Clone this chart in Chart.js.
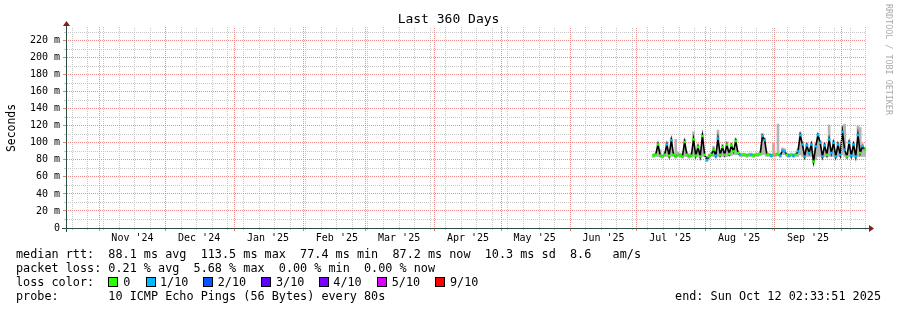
<!DOCTYPE html>
<html>
<head>
<meta charset="utf-8">
<script src="https://cdn.jsdelivr.net/npm/chart.js@4.4.1/dist/chart.umd.min.js"></script>
<style>
html,body{margin:0;padding:0;background:#fff;}
#wrap{position:relative;width:897px;height:310px;overflow:hidden;font-family:"DejaVu Sans Mono",monospace;color:#000;background:#fff;}
#c{position:absolute;left:0;top:0;}
.t{position:absolute;white-space:pre;font-size:11.8px;line-height:14px;}
.box{position:absolute;width:8px;height:8px;border:1px solid #000;}
#title{position:absolute;left:0;width:897px;top:11px;text-align:center;font-size:13px;line-height:16px;white-space:pre;}
#ylab{position:absolute;left:10.5px;top:127.5px;transform:translate(-50%,-50%) rotate(-90deg);font-size:11.4px;line-height:14px;white-space:pre;}
#wm{position:absolute;left:884px;top:4px;writing-mode:vertical-rl;font-size:8.4px;line-height:10px;color:#aaa;white-space:pre;}
</style>
</head>
<body>
<div id="wrap">
  <canvas id="c" width="897" height="310"></canvas>
  <div id="title"></div>
  <div id="ylab"></div>
  <div id="wm"></div>
  <div id="legend"></div>
</div>
<script>
// ---------------- DATA ----------------
const chartTitle = 'Last 360 Days';
const yAxisTitle = 'Seconds';
const watermark = 'RRDTOOL / TOBI OETIKER';
const graphStart = '2024-10-17T02:33:51Z';
const graphEnd = '2025-10-12T02:33:51Z';
const dataStart = '2025-07-08T12:00:00Z'; // one sample per day from here

const yMajorValues = [0,20,40,60,80,100,120,140,160,180,200,220];
const yMinorValues = [10,30,50,70,90,110,130,150,170,190,210,230];
const yTickLabels = ['0','20 m','40 m','60 m','80 m','100 m','120 m','140 m','160 m','180 m','200 m','220 m'];

const monthStarts = ['2024-11-01','2024-12-01','2025-01-01','2025-02-01','2025-03-01','2025-04-01','2025-05-01','2025-06-01','2025-07-01','2025-08-01','2025-09-01','2025-10-01'];
const monthLabels = ["Nov '24","Dec '24","Jan '25","Feb '25","Mar '25","Apr '25","May '25","Jun '25","Jul '25","Aug '25","Sep '25"];
const firstWeekLine = '2024-10-20T00:00:00Z';

// median RTT (ms), one value per day
const medianRtt = [
 85,86,98,85,84,86,98,85,103,86,
 84,86,85,84,101,86,84,85,104,85,
 95,84,108,86,80,84,86,92,85,105,
 86,95,86,98,87,97,90,102,88,86,
 86,86,85,86,86,85,86,86,87,108,
 103,86,86,85,86,86,87,85,91,90,
 86,85,86,85,86,90,109,98,84,97,
 88,98,78,96,109,100,84,97,86,104,
 88,100,84,98,86,113,92,84,100,85,
 98,84,109,88,96,92];
// smoke range (ms)
const smokeLow = [
 83,84,84,83,82,84,84,83,84,84,
 82,84,83,82,84,84,82,83,84,83,
 84,82,84,84,78,82,84,84,83,84,
 84,84,84,84,85,85,86,86,86,84,
 84,84,83,84,84,83,84,84,85,86,
 86,84,84,83,84,84,85,83,86,86,
 84,83,84,83,84,84,86,84,82,84,
 84,84,76,80,84,84,82,84,84,84,
 84,84,82,84,84,86,84,82,84,83,
 84,82,84,84,84,84];
const smokeHigh = [
 87,88,101,92,86,89,101,88,106,89,
 104,89,88,87,104,89,87,88,113,88,
 99,87,111,89,84,87,89,96,88,115,
 89,98,89,101,90,100,93,105,91,88,
 88,88,87,88,88,87,88,88,90,111,
 106,88,88,87,100,88,122,87,94,93,
 88,87,88,87,88,93,112,101,87,100,
 91,101,82,99,111,103,87,100,89,121,
 91,103,87,101,89,120,122,87,103,88,
 101,87,120,118,99,95];
// loss colour index per day (0 = no loss, 1 = 1/10)
const lossLevel = [
 0,0,0,0,0,0,1,0,1,0,
 0,0,0,0,0,0,0,0,0,0,
 0,0,0,0,1,0,0,0,1,1,
 0,0,0,0,0,0,0,0,0,1,
 0,0,0,0,1,0,0,0,0,1,
 1,0,0,1,0,0,0,1,1,1,
 0,1,0,1,0,1,1,1,1,1,
 1,1,0,1,1,1,1,1,0,1,
 1,1,1,1,1,1,1,0,1,1,
 1,1,1,0,1,0];

const lossLabels = ['0','1/10','2/10','3/10','4/10','5/10','9/10'];
const lossColors = ['#26ff00','#00b8ff','#0059ff','#5e00ff','#7e00ff','#dd00ff','#ff0000'];

const rttRow = 'median rtt:  88.1 ms avg  113.5 ms max  77.4 ms min  87.2 ms now  10.3 ms sd  8.6   am/s';
const lossRow = 'packet loss: 0.21 % avg  5.68 % max  0.00 % min  0.00 % now';
const lossTitle = 'loss color:';
const probeRow = 'probe:       10 ICMP Echo Pings (56 Bytes) every 80s';
const endText = 'end: Sun Oct 12 02:33:51 2025';

// ---------------- STYLE / LAYOUT ----------------
const AXIS = '#2c4d43';
const ARROW = '#7f1f1f';
const SMOKE = '#b4b4b4';
const MONO = '"DejaVu Sans Mono", monospace';

// dotted grid strokes via a 2x2 checker pattern
function dotPattern(color) {
  const off = document.createElement('canvas');
  off.width = 2; off.height = 2;
  const g = off.getContext('2d');
  g.fillStyle = color;
  g.fillRect(0, 0, 1, 1);
  g.fillRect(1, 1, 1, 1);
  return document.getElementById('c').getContext('2d').createPattern(off, 'repeat');
}
const GRID = dotPattern('#c6c6c6');
const MGRID = dotPattern('#f08c8c');
const GRIDTICK = '#c6c6c6';
const MGRIDTICK = '#e08080';

const DAY = 86400000;
const t0 = Date.parse(graphStart);
const toDay = s => (Date.parse(s) - t0) / DAY;
const spanDays = toDay(graphEnd);
const d0 = toDay(dataStart);

const medianPts = medianRtt.map((v, i) => ({x: d0 + i, y: v}));
const smokePts = smokeLow.map((v, i) => ({x: d0 + i, y: [v, smokeHigh[i]]}));
const pointColors = lossLevel.map(k => lossColors[k]);

const weekTicks = [];
for (let d = toDay(firstWeekLine); d <= spanDays + 1e-6; d += 7) weekTicks.push(d);
const monthTicks = monthStarts.map(s => toDay(s + 'T00:00:00Z'));
const labelTicks = monthLabels.map((l, i) => monthTicks[i] + 15);

const setTicks = vals => (s => { s.ticks = vals.map(v => ({value: v})); });
const noTickText = {display: false};

const arrowPlugin = {
  id: 'arrows',
  afterDraw(chart) {
    const {ctx, chartArea: a} = chart;
    const yb = Math.round(a.bottom) + 0.5, xl = Math.round(a.left) + 0.5;
    ctx.save();
    ctx.strokeStyle = AXIS; ctx.lineWidth = 1;
    ctx.beginPath();
    ctx.moveTo(a.left - 4, yb); ctx.lineTo(a.right + 4, yb);
    ctx.moveTo(xl, a.bottom + 4); ctx.lineTo(xl, a.top - 3);
    ctx.stroke();
    ctx.fillStyle = ARROW;
    ctx.beginPath();
    ctx.moveTo(a.right + 3, yb - 3.5); ctx.lineTo(a.right + 8, yb); ctx.lineTo(a.right + 3, yb + 3.5); ctx.closePath(); ctx.fill();
    ctx.beginPath();
    ctx.moveTo(xl - 3.5, a.top - 1); ctx.lineTo(xl, a.top - 6); ctx.lineTo(xl + 3.5, a.top - 1); ctx.closePath(); ctx.fill();
    ctx.restore();
  }
};

new Chart(document.getElementById('c'), {
  type: 'line',
  data: {
    datasets: [
      {type: 'bar', data: smokePts, backgroundColor: SMOKE, borderWidth: 0, barThickness: 2, grouped: false, order: 2},
      {type: 'line', data: medianPts, borderColor: '#000', borderWidth: 1.6, tension: 0, fill: false,
       pointStyle: 'line', pointRadius: 1.4, pointBorderWidth: 2.4, pointBorderColor: pointColors, pointBackgroundColor: pointColors, order: 1}
    ]
  },
  options: {
    responsive: false, animation: false, devicePixelRatio: 1, events: [],
    layout: {padding: {left: 0, top: 27, right: 31, bottom: 0}},
    plugins: {legend: {display: false}, tooltip: {enabled: false}, title: {display: false}},
    scales: {
      // month labels (mid-month)
      x: {
        type: 'linear', position: 'bottom', weight: 2, min: 0, max: spanDays, offset: false,
        afterFit: s => { s.height = 82; },
        afterBuildTicks: setTicks(labelTicks),
        grid: {display: false, drawTicks: false},
        border: {display: false},
        ticks: {autoSkip: false, maxRotation: 0, minRotation: 0, padding: 4, color: '#000',
                font: {family: MONO, size: 10},
                callback: (v, i) => monthLabels[i] || ''}
      },
      // month start major grid
      xMonth: {
        type: 'linear', position: 'bottom', weight: 0, min: 0, max: spanDays, offset: false,
        afterFit: s => { s.height = 0; },
        afterBuildTicks: setTicks(monthTicks),
        grid: {color: MGRID, tickColor: MGRIDTICK, lineWidth: 1, drawTicks: true, tickLength: 3, z: 1},
        border: {display: false},
        ticks: noTickText
      },
      // weekly minor grid
      xWeek: {
        type: 'linear', position: 'bottom', weight: 1, min: 0, max: spanDays, offset: false,
        afterFit: s => { s.height = 0; },
        afterBuildTicks: setTicks(weekTicks),
        grid: {color: GRID, tickColor: GRIDTICK, lineWidth: 1, drawTicks: true, tickLength: 2},
        border: {display: false},
        ticks: noTickText
      },
      y: {
        type: 'linear', position: 'left', weight: 1, min: 0, max: 236,
        afterFit: s => { s.width = 66; },
        afterBuildTicks: setTicks(yMajorValues),
        grid: {color: MGRID, tickColor: MGRIDTICK, lineWidth: 1, tickLength: 3, drawTicks: true},
        border: {display: false},
        ticks: {autoSkip: false, padding: 3, color: '#000', font: {family: MONO, size: 10},
                callback: (v, i) => yTickLabels[i]}
      },
      yMinor: {
        type: 'linear', position: 'left', weight: 0, min: 0, max: 236,
        afterFit: s => { s.width = 0; },
        afterBuildTicks: setTicks(yMinorValues),
        grid: {color: GRID, tickColor: GRIDTICK, lineWidth: 1, tickLength: 2, drawTicks: true},
        border: {display: false},
        ticks: noTickText
      }
    }
  },
  plugins: [arrowPlugin]
});

// ---------------- TEXT ----------------
document.getElementById('title').textContent = chartTitle;
document.getElementById('ylab').textContent = yAxisTitle;
document.getElementById('wm').textContent = watermark;

const legend = document.getElementById('legend');
function addText(txt, x, y, extra) {
  const d = document.createElement('div');
  d.className = 't'; d.textContent = txt;
  d.style.left = x + 'px'; d.style.top = y + 'px';
  if (extra) Object.assign(d.style, extra);
  legend.appendChild(d);
}
const rowTop = [247, 261, 275, 289];
addText(rttRow, 16, rowTop[0]);
addText(lossRow, 16, rowTop[1]);
addText(lossTitle, 16, rowTop[2]);
const boxX = [108.3, 145.7, 203.3, 261, 319, 376.7, 435];
const boxTextX = [123.3, 160, 217.7, 276, 333.3, 391.7, 450];
lossLabels.forEach((l, i) => {
  const b = document.createElement('div');
  b.className = 'box'; b.style.left = boxX[i] + 'px'; b.style.top = (rowTop[2] + 2) + 'px';
  b.style.background = lossColors[i];
  legend.appendChild(b);
  addText(l, boxTextX[i], rowTop[2]);
});
addText(probeRow, 16, rowTop[3]);
addText(endText, 0, rowTop[3], {left: 'auto', right: '16px'});
</script>
</body>
</html>
